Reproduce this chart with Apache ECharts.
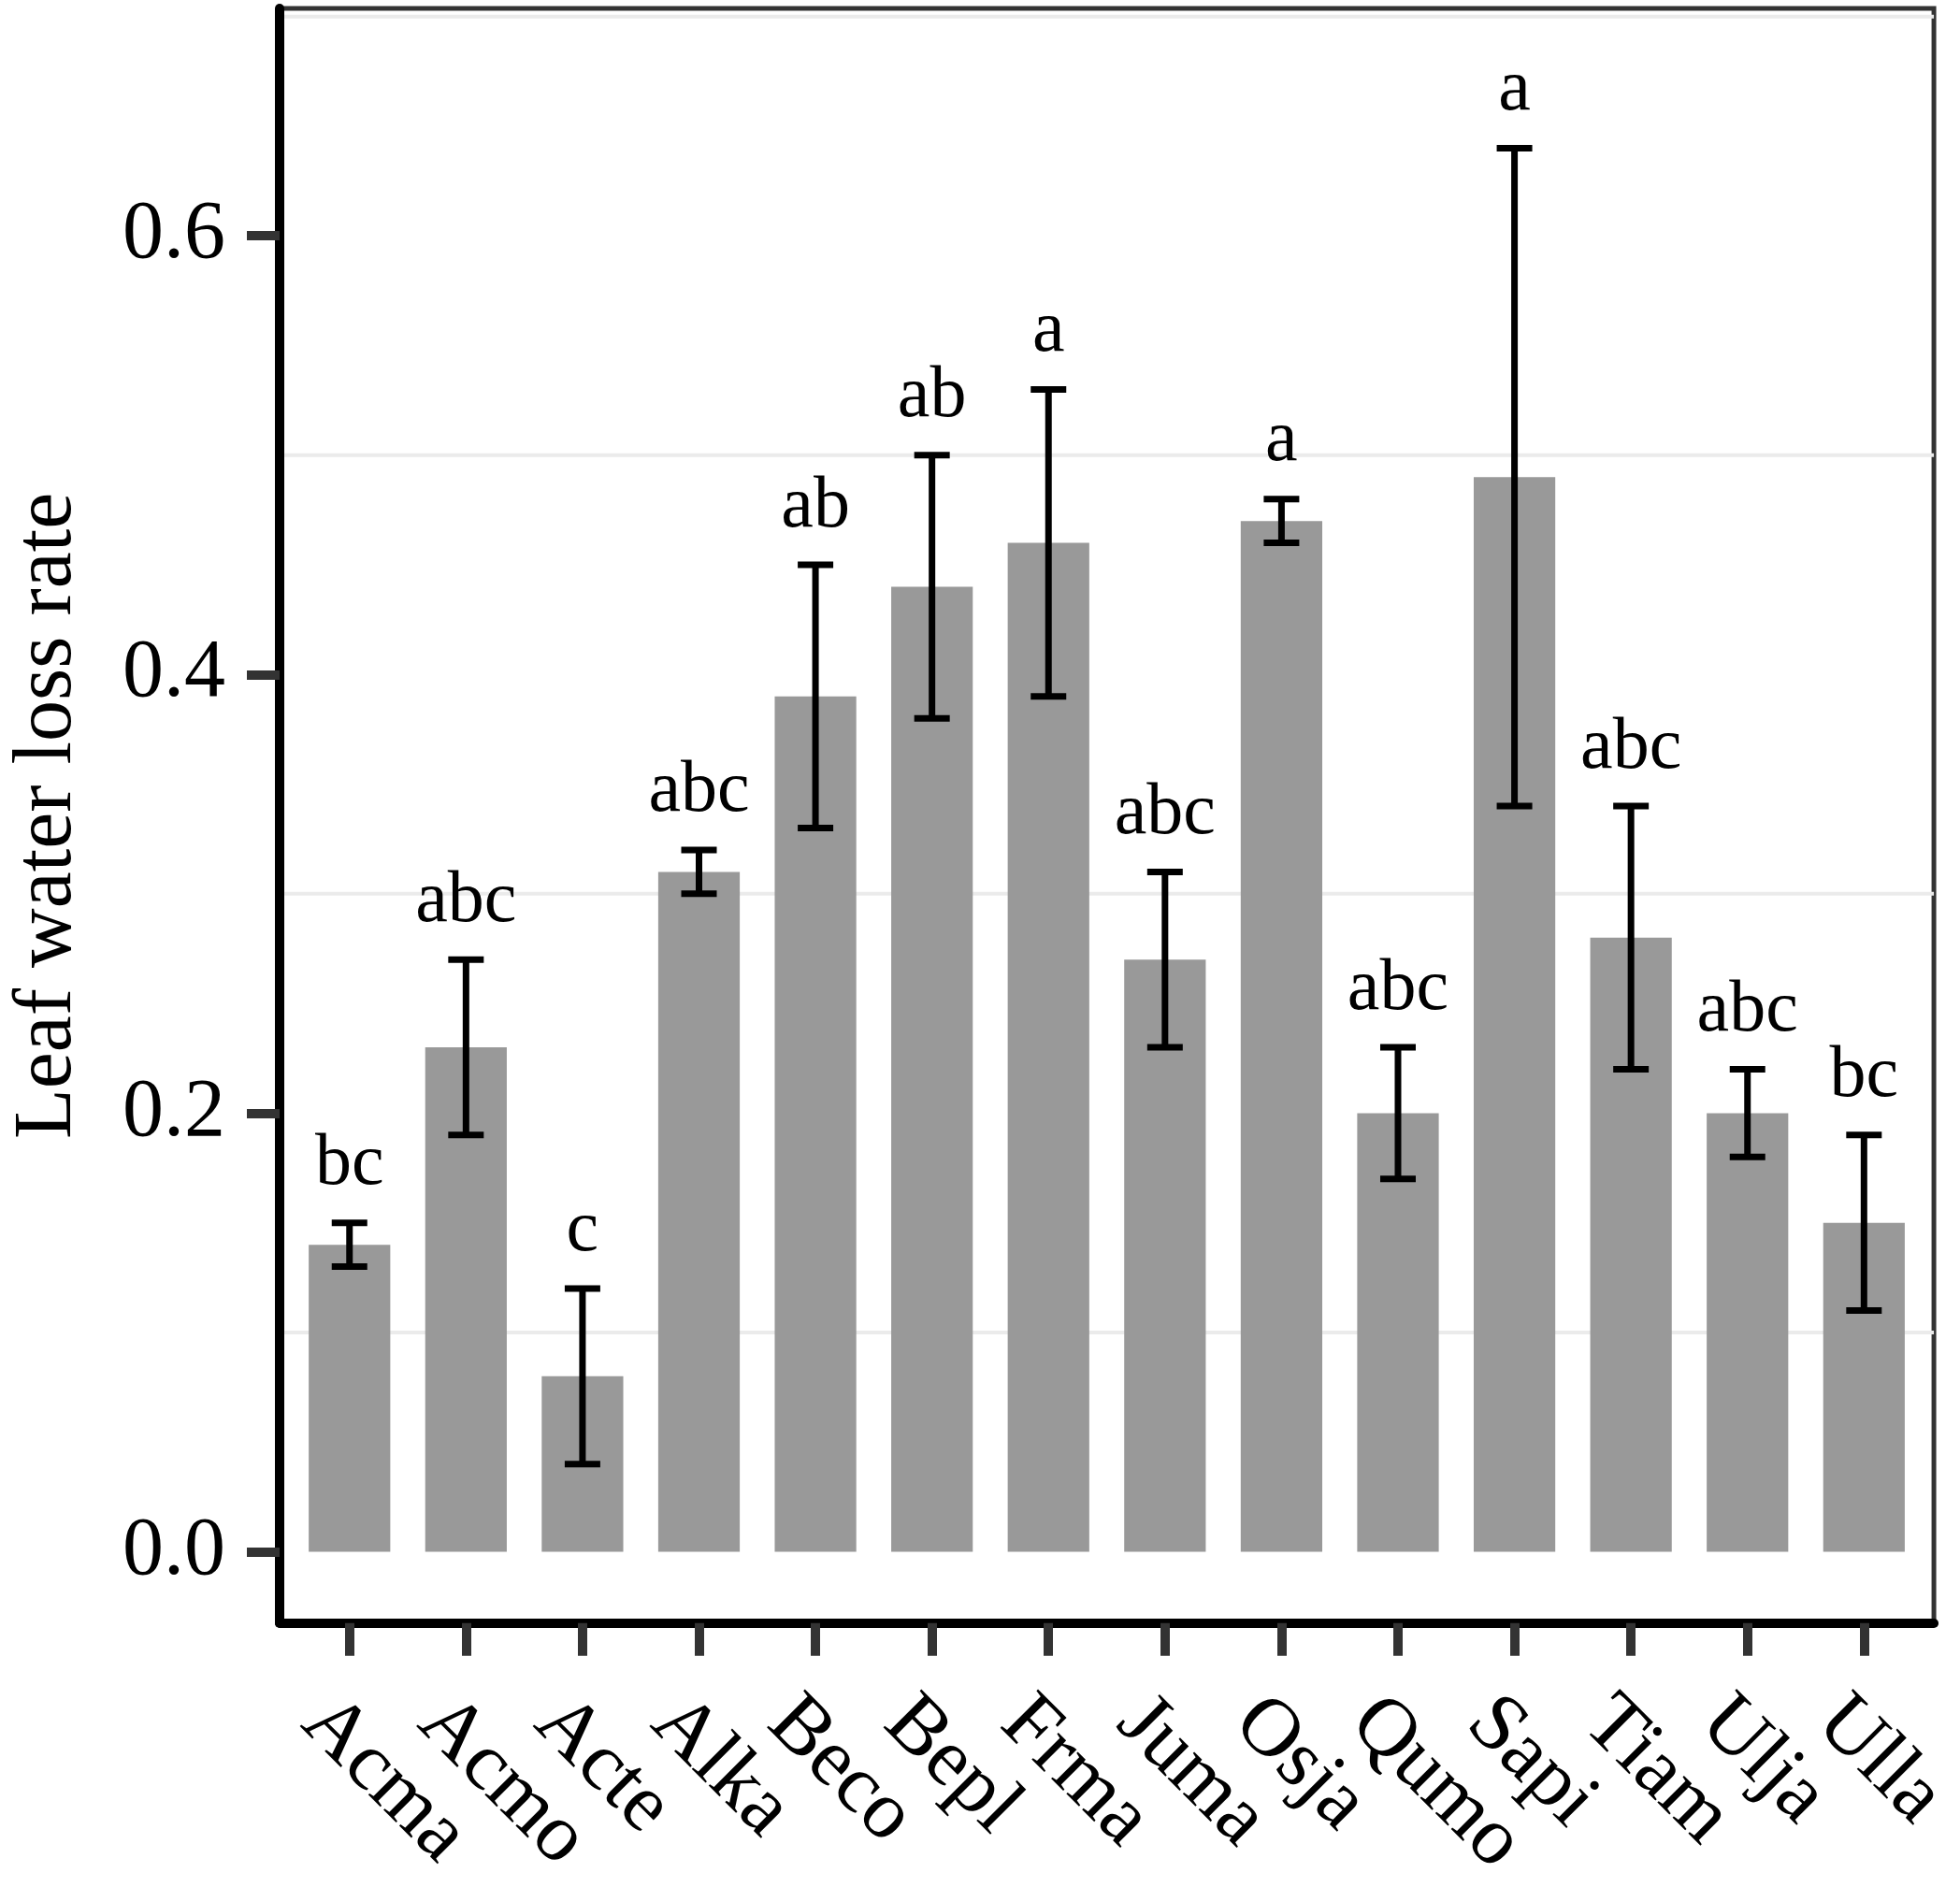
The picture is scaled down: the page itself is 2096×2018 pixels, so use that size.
<!DOCTYPE html>
<html>
<head>
<meta charset="utf-8">
<script src="https://cdn.jsdelivr.net/npm/echarts@6/dist/echarts.min.js"></script>
<style>
  html, body { margin: 0; padding: 0; background: #fff; }
  #chart { width: 2096px; height: 2018px; }
</style>
</head>
<body>
<div id="chart"></div>
<script>
// species codes along the x axis
const species = ['Acma', 'Acmo', 'Acte', 'Alka', 'Beco', 'Bepl', 'Frma',
  'Juma', 'Osja', 'Qumo', 'Sapi', 'Tiam', 'Ulja', 'Ulla'];
// mean leaf water loss rate
const means = [0.14, 0.23, 0.08, 0.31, 0.39, 0.44, 0.46, 0.27, 0.47, 0.20, 0.49, 0.28, 0.20, 0.15];
// error bar ends
const lower = [0.13, 0.19, 0.04, 0.30, 0.33, 0.38, 0.39, 0.23, 0.46, 0.17, 0.34, 0.22, 0.18, 0.11];
const upper = [0.15, 0.27, 0.12, 0.32, 0.45, 0.50, 0.53, 0.31, 0.48, 0.23, 0.64, 0.34, 0.22, 0.19];
// significance letters
const letters = ['bc', 'abc', 'c', 'abc', 'ab', 'ab', 'a', 'abc', 'a', 'abc', 'a', 'abc', 'abc', 'bc'];
// y tick labels and the light minor grid lines
const yTicks = [0, 0.2, 0.4, 0.6];
const minorGrid = [0.1, 0.3, 0.5, 0.7];

const font = 'Liberation Serif';
const positions = species.map((s, i) => i + 1);

const chart = echarts.init(document.getElementById('chart'));

chart.setOption({
  animation: false,
  backgroundColor: '#fff',
  grid: {
    left: 294, right: 10, top: 9, bottom: 264,
    show: true, borderColor: '#333', borderWidth: 5, backgroundColor: 'transparent'
  },
  xAxis: {
    type: 'value',
    min: 0.4,
    max: 14.6,
    axisLine: { show: true, onZero: false, lineStyle: { color: '#000', width: 10 } },
    axisTick: { show: true, customValues: positions, length: 35, lineStyle: { color: '#333', width: 10 } },
    axisLabel: {
      customValues: positions,
      showMinLabel: true,
      showMaxLabel: true,
      formatter: (v) => species[Math.round(v) - 1],
      rotate: -45,
      align: 'left',
      verticalAlign: 'top',
      padding: [9, 0, 0, 0],
      margin: 56,
      color: '#000',
      fontFamily: font,
      fontSize: 88
    },
    splitLine: { show: false }
  },
  yAxis: {
    type: 'value',
    min: -0.0325,
    max: 0.7037,
    name: 'Leaf water loss rate',
    nameLocation: 'middle',
    nameGap: 203,
    nameTextStyle: { color: '#000', fontFamily: font, fontSize: 88 },
    axisLine: { show: true, onZero: false, lineStyle: { color: '#000', width: 10 } },
    axisTick: { show: true, customValues: yTicks, length: 35, lineStyle: { color: '#333', width: 10 } },
    axisLabel: {
      customValues: yTicks,
      showMinLabel: true,
      showMaxLabel: true,
      formatter: (v) => v.toFixed(1),
      margin: 58,
      color: '#000',
      fontFamily: font,
      fontSize: 88
    },
    splitLine: { show: false }
  },
  series: [
    {
      // minor grid lines behind the bars
      type: 'custom',
      z: 0,
      silent: true,
      data: minorGrid,
      renderItem: (params, api) => {
        const cs = params.coordSys;
        const y = api.coord([1, api.value(0)])[1];
        return {
          type: 'line',
          shape: { x1: cs.x, y1: y, x2: cs.x + cs.width, y2: y },
          style: { stroke: '#ebebeb', lineWidth: 4 }
        };
      }
    },
    {
      // bars, width 0.7 of a category
      type: 'custom',
      z: 2,
      data: means.map((m, i) => [positions[i], m]),
      renderItem: (params, api) => {
        const top = api.coord([api.value(0), api.value(1)]);
        const base = api.coord([api.value(0), 0]);
        const w = api.size([0.7, 0])[0];
        return {
          type: 'rect',
          shape: { x: top[0] - w / 2, y: top[1], width: w, height: base[1] - top[1] },
          style: { fill: '#999999' }
        };
      }
    },
    {
      // error bars with letters above
      type: 'custom',
      z: 3,
      clip: false,
      data: species.map((s, i) => [positions[i], lower[i], upper[i]]),
      renderItem: (params, api) => {
        const i = params.dataIndex;
        const lo = api.coord([api.value(0), api.value(1)]);
        const hi = api.coord([api.value(0), api.value(2)]);
        const half = 19;
        const st = { stroke: '#000', lineWidth: 7 };
        return {
          type: 'group',
          children: [
            { type: 'line', shape: { x1: hi[0], y1: hi[1], x2: lo[0], y2: lo[1] }, style: st },
            { type: 'line', shape: { x1: hi[0] - half, y1: hi[1], x2: hi[0] + half, y2: hi[1] }, style: st },
            { type: 'line', shape: { x1: lo[0] - half, y1: lo[1], x2: lo[0] + half, y2: lo[1] }, style: st },
            {
              type: 'text',
              style: {
                x: hi[0], y: hi[1] - 62,
                text: letters[i],
                align: 'center', verticalAlign: 'middle',
                fill: '#000', fontFamily: font, fontSize: 78
              }
            }
          ]
        };
      }
    }
  ]
});
</script>
</body>
</html>
